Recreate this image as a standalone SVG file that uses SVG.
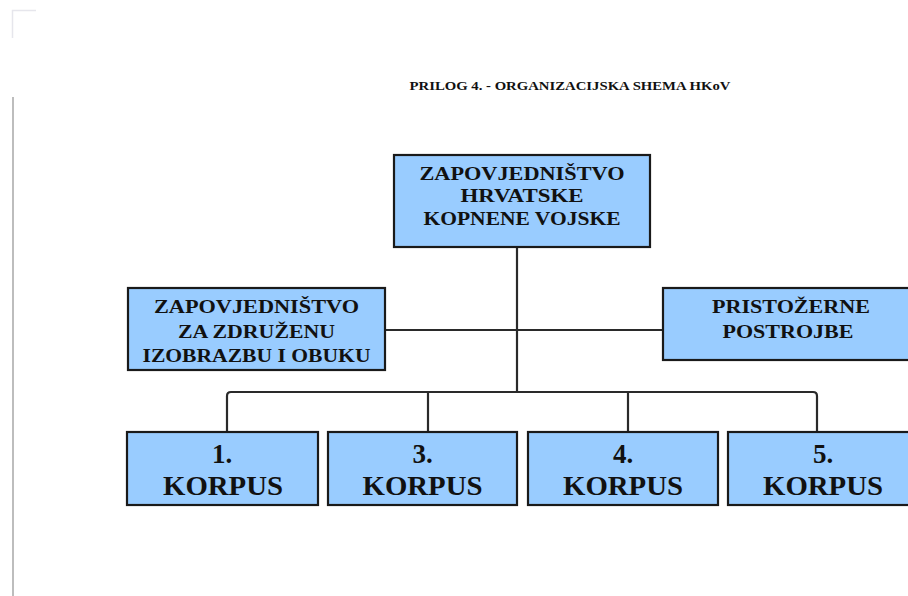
<svg xmlns="http://www.w3.org/2000/svg" width="908" height="596" viewBox="0 0 908 596">
<style>
.box{fill:#99ccff;stroke:#1a1a1a;stroke-width:2.2}
.t{font-family:"Liberation Serif","Times New Roman",serif;font-weight:bold;fill:#111;text-anchor:middle}
.s{font-size:18px}
.k{font-size:27px}
.c{fill:none;stroke:#2a2a2a;stroke-width:2.2;stroke-linejoin:round}
</style>
<rect width="908" height="596" fill="#ffffff"/>
<g id="page-marks">
<path d="M12.5 38 V10.5 H36" fill="none" stroke="#e6e6ec" stroke-width="1.5"/>
<line x1="13" y1="97" x2="13" y2="596" stroke="#bdbdbd" stroke-width="2"/>
</g>
<text id="title" class="t" x="570" y="90" font-size="13" textLength="321" lengthAdjust="spacingAndGlyphs">PRILOG 4. - ORGANIZACIJSKA SHEMA HKoV</text>
<g id="connectors">
<line class="c" x1="517" y1="247" x2="517" y2="392"/>
<line class="c" x1="385" y1="330" x2="663" y2="330"/>
<path class="c" d="M227 432 V396 Q227 392 231 392 H813 Q817 392 817 396 V432"/>
<line class="c" x1="428" y1="392" x2="428" y2="432"/>
<line class="c" x1="628" y1="392" x2="628" y2="432"/>
</g>
<g id="hq">
<rect class="box" x="394" y="155" width="256" height="92"/>
<text class="t s" x="522" y="180" textLength="205" lengthAdjust="spacingAndGlyphs">ZAPOVJEDNIŠTVO</text>
<text class="t s" x="522" y="202" textLength="123" lengthAdjust="spacingAndGlyphs">HRVATSKE</text>
<text class="t s" x="522" y="225" textLength="197" lengthAdjust="spacingAndGlyphs">KOPNENE VOJSKE</text>
</g>
<g id="training">
<rect class="box" x="128" y="288" width="257" height="82"/>
<text class="t s" x="256.5" y="313" textLength="205" lengthAdjust="spacingAndGlyphs">ZAPOVJEDNIŠTVO</text>
<text class="t s" x="256.5" y="338" textLength="157" lengthAdjust="spacingAndGlyphs">ZA ZDRUŽENU</text>
<text class="t s" x="256.5" y="362" textLength="228" lengthAdjust="spacingAndGlyphs">IZOBRAZBU I OBUKU</text>
</g>
<g id="attached">
<rect class="box" x="663" y="288" width="256" height="72"/>
<text class="t s" x="791" y="313" textLength="158" lengthAdjust="spacingAndGlyphs">PRISTOŽERNE</text>
<text class="t s" x="788" y="338" textLength="131" lengthAdjust="spacingAndGlyphs">POSTROJBE</text>
</g>
<g id="korpus1">
<rect class="box" x="127" y="432" width="191" height="73"/>
<text class="t k" x="222" y="463">1.</text>
<text class="t k" x="223" y="495" textLength="120" lengthAdjust="spacingAndGlyphs">KORPUS</text>
</g>
<g id="korpus3">
<rect class="box" x="328" y="432" width="189" height="73"/>
<text class="t k" x="422.5" y="463">3.</text>
<text class="t k" x="422.5" y="495" textLength="120" lengthAdjust="spacingAndGlyphs">KORPUS</text>
</g>
<g id="korpus4">
<rect class="box" x="528" y="432" width="190" height="73"/>
<text class="t k" x="623" y="463">4.</text>
<text class="t k" x="623" y="495" textLength="120" lengthAdjust="spacingAndGlyphs">KORPUS</text>
</g>
<g id="korpus5">
<rect class="box" x="728" y="432" width="190" height="73"/>
<text class="t k" x="823" y="463">5.</text>
<text class="t k" x="823" y="495" textLength="120" lengthAdjust="spacingAndGlyphs">KORPUS</text>
</g>
</svg>
